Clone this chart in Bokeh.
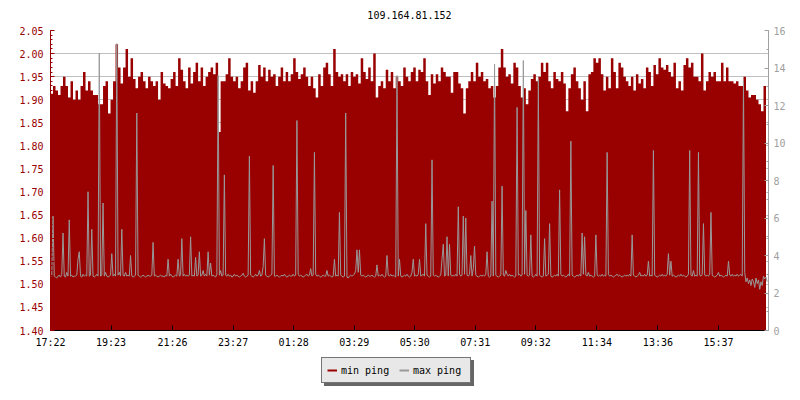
from bokeh.plotting import figure
from bokeh.layouts import column
from bokeh.models import (Range1d, LinearAxis, FixedTicker,
                          Legend, LegendItem, ColumnDataSource, NumeralTickFormatter)
from bokeh.embed import file_html
from bokeh.resources import INLINE

title_text = "109.164.81.152"
start_label = "17:22"
min_sample_minutes = 5
max_sample_minutes = 2.5
tick_labels = ["17:22", "19:23", "21:26", "23:27", "01:28", "03:29",
               "05:30", "07:31", "09:32", "11:34", "13:36", "15:37"]
left_ticks = [1.40, 1.45, 1.50, 1.55, 1.60, 1.65, 1.70, 1.75, 1.80, 1.85, 1.90, 1.95, 2.00, 2.05]
right_ticks = [0, 2, 4, 6, 8, 10, 12, 14, 16]
series_names = ["min ping", "max ping"]

# left axis series, one value per 5 minutes
min_ping = [
    1.913, 1.93, 1.92, 1.91, 1.93, 1.95, 1.93, 1.905, 1.94, 1.90,
    1.92, 1.90, 1.93, 1.96, 1.92, 1.94, 1.92, 1.91, 1.91, 1.89,
    1.89, 1.93, 1.94, 1.87, 1.90, 1.94, 2.02, 1.97, 1.935, 1.97,
    2.01, 1.95, 1.99, 1.945, 1.925, 1.95, 1.96, 1.94, 1.925, 1.95,
    1.94, 1.93, 1.94, 1.90, 1.96, 1.935, 1.93, 1.925, 1.945, 1.96,
    1.93, 1.99, 1.965, 1.94, 1.925, 1.97, 1.935, 1.96, 1.98, 1.94,
    1.97, 1.93, 1.95, 1.96, 1.97, 1.955, 1.98, 1.83, 1.94, 1.94,
    1.955, 1.99, 1.95, 1.94, 1.95, 1.925, 1.94, 1.97, 1.98, 1.92,
    1.94, 1.915, 1.94, 1.975, 1.95, 1.97, 1.94, 1.965, 1.95, 1.955,
    1.93, 1.95, 1.97, 1.94, 1.96, 1.94, 1.955, 1.99, 1.96, 1.945,
    1.955, 1.97, 1.95, 1.93, 1.95, 1.925, 1.905, 1.955, 1.93, 1.97,
    1.98, 1.955, 1.93, 2.01, 1.96, 1.95, 1.955, 1.94, 1.955, 1.93,
    1.96, 1.95, 1.955, 1.935, 1.99, 1.96, 1.945, 1.97, 1.94, 2.00,
    1.905, 1.93, 1.94, 1.925, 1.965, 1.94, 1.96, 1.925, 1.95, 1.94,
    1.93, 1.97, 1.95, 1.94, 1.96, 1.97, 1.94, 1.965, 1.96, 1.99,
    1.94, 1.91, 1.955, 1.935, 1.955, 1.94, 1.97, 1.96, 1.95, 1.95,
    1.915, 1.96, 1.96, 1.935, 1.925, 1.87, 1.925, 1.94, 1.96, 1.94,
    1.98, 1.95, 1.96, 1.94, 1.945, 1.925, 1.93, 1.905, 1.93, 1.97,
    2.01, 1.97, 1.95, 1.955, 1.935, 1.98, 1.97, 1.93, 1.905, 1.925,
    1.89, 1.92, 1.945, 1.955, 1.94, 1.95, 1.98, 1.96, 1.98, 1.94,
    1.925, 1.96, 1.945, 1.94, 1.96, 1.935, 1.875, 1.925, 1.955, 1.97,
    1.94, 1.925, 1.90, 1.94, 1.875, 1.955, 1.96, 1.99, 1.98, 1.99,
    1.955, 1.92, 1.95, 1.925, 1.99, 1.96, 1.925, 1.98, 1.97, 1.95,
    1.94, 1.93, 1.95, 1.92, 1.955, 1.935, 1.945, 1.925, 1.97, 1.96,
    1.93, 1.975, 1.955, 1.99, 1.97, 1.965, 1.975, 1.96, 1.95, 1.98,
    1.925, 1.94, 1.92, 1.975, 1.99, 1.97, 1.98, 1.95, 1.95, 1.94,
    2.00, 1.92, 1.94, 1.96, 1.95, 1.96, 1.94, 1.94, 1.98, 1.94,
    1.97, 1.94, 1.94, 1.935, 1.94, 1.93, 1.93, 1.95, 1.92, 1.905,
    1.91, 1.91, 1.90, 1.89, 1.875, 1.93, 1.925,
]

# right axis series, one value per 2.5 minutes
max_ping = [
    2.95, 2.9, 6.1, 2.9, 2.85, 2.8, 2.9, 2.95, 2.85, 3.0, 5.2, 2.9, 2.85, 3.1, 2.9, 5.9, 2.9, 2.95, 2.85, 2.9,
    2.9, 2.95, 3.8, 4.2, 2.9, 2.85, 3.0, 2.9, 2.95, 2.9, 7.4, 2.9, 2.95, 5.4, 2.9, 2.85, 2.9, 3.0, 2.9, 14.8,
    2.9, 2.95, 6.8, 2.9, 3.1, 2.9, 2.85, 2.9, 2.95, 4.1, 2.9, 3.0, 2.9, 15.3, 2.95, 3.1, 2.9, 5.4, 2.95, 2.9,
    3.1, 2.9, 2.95, 2.9, 4.0, 2.9, 2.85, 2.9, 2.95, 11.6, 2.95, 2.9, 2.85, 2.9, 2.95, 2.9, 2.85, 2.9, 2.95, 2.9,
    2.9, 2.95, 4.7, 2.9, 2.95, 2.9, 2.85, 2.9, 2.95, 2.9, 2.9, 2.85, 2.95, 2.9, 3.8, 2.9, 3.0, 2.9, 2.85, 2.9,
    2.95, 2.9, 3.8, 2.9, 2.95, 4.9, 2.9, 3.0, 2.9, 2.95, 2.9, 2.95, 5.0, 2.9, 2.95, 2.9, 3.9, 2.9, 2.95, 4.2,
    2.9, 2.95, 3.2, 2.9, 3.0, 2.9, 4.2, 2.95, 3.6, 2.9, 2.95, 2.9, 2.85, 3.0, 13.6, 2.95, 3.2, 2.9, 2.95, 8.3,
    2.95, 2.9, 3.0, 2.9, 2.95, 2.85, 2.9, 3.0, 2.9, 2.95, 2.9, 2.85, 2.9, 2.95, 3.05, 2.9, 2.85, 2.9, 2.95, 9.3,
    2.95, 2.9, 2.85, 2.9, 3.0, 2.9, 2.95, 3.2, 2.9, 2.95, 3.4, 4.9, 2.95, 2.9, 2.85, 2.9, 2.95, 3.0, 8.8, 2.9,
    2.9, 2.95, 2.9, 2.85, 2.9, 2.95, 2.9, 3.0, 2.9, 2.85, 2.9, 2.95, 2.9, 2.9, 3.0, 2.9, 2.95, 11.2, 3.0, 2.9,
    2.95, 2.9, 2.85, 2.9, 2.95, 3.0, 2.9, 2.95, 3.3, 2.9, 2.95, 9.5, 3.0, 2.9, 2.95, 2.9, 2.85, 2.9, 2.95, 2.9,
    2.9, 3.2, 2.9, 2.95, 2.9, 2.85, 2.9, 3.8, 2.9, 2.95, 2.9, 6.3, 2.95, 2.9, 2.85, 2.9, 11.6, 2.85, 2.8, 2.9,
    2.95, 2.9, 2.95, 3.0, 3.2, 4.3, 3.1, 4.3, 2.95, 2.9, 2.95, 2.9, 2.85, 2.9, 2.95, 2.9, 2.9, 2.95, 2.9, 2.85,
    2.9, 3.5, 2.9, 2.95, 2.9, 3.0, 2.9, 2.85, 2.9, 4.0, 2.95, 2.9, 3.0, 2.9, 2.95, 2.9, 2.85, 13.6, 2.9, 3.8,
    2.9, 2.85, 2.9, 2.95, 2.9, 3.0, 2.9, 2.85, 2.9, 3.1, 3.8, 2.9, 2.95, 2.9, 3.0, 3.8, 2.9, 2.95, 3.0, 2.9,
    5.7, 2.95, 2.9, 2.85, 2.9, 9.1, 2.95, 2.9, 2.95, 2.9, 2.85, 2.9, 2.95, 3.8, 4.6, 2.9, 2.95, 5.0, 2.9, 4.6,
    2.95, 2.9, 2.95, 2.9, 3.0, 2.9, 6.6, 3.0, 2.9, 2.95, 6.1, 3.0, 6.0, 2.95, 2.9, 3.0, 4.0, 2.9, 3.3, 4.5,
    2.95, 2.9, 2.85, 2.9, 2.95, 2.9, 2.95, 2.9, 3.0, 4.2, 2.9, 2.85, 2.9, 6.9, 2.9, 14.2, 2.95, 2.9, 2.85, 2.9,
    2.95, 7.7, 2.95, 2.9, 3.2, 3.0, 2.9, 3.0, 2.9, 2.95, 2.9, 2.85, 2.9, 11.9, 2.95, 3.0, 2.9, 2.95, 14.4, 3.0,
    6.4, 2.95, 2.9, 2.95, 5.1, 2.9, 2.85, 2.9, 3.0, 2.9, 13.4, 2.95, 2.9, 2.85, 2.9, 4.9, 2.9, 2.95, 3.0, 5.7,
    2.9, 2.85, 2.9, 2.95, 2.9, 3.0, 2.9, 7.5, 3.0, 2.9, 2.95, 2.9, 2.85, 2.9, 3.0, 2.9, 10.1, 2.95, 2.9, 2.85,
    2.9, 2.95, 2.9, 3.0, 2.9, 5.2, 3.0, 5.0, 2.95, 2.9, 3.1, 2.9, 2.95, 2.9, 2.85, 2.9, 5.1, 2.95, 2.9, 2.95,
    2.9, 3.0, 2.9, 2.95, 2.9, 9.5, 3.0, 2.9, 2.95, 2.9, 2.85, 2.9, 2.95, 3.0, 2.9, 2.95, 2.9, 2.85, 2.9, 2.95,
    2.9, 2.95, 2.9, 3.0, 2.9, 5.1, 2.95, 2.9, 2.85, 2.9, 2.95, 3.1, 2.9, 2.95, 2.9, 3.0, 2.9, 2.95, 3.7, 2.9,
    2.95, 2.9, 9.6, 2.95, 2.9, 2.85, 2.9, 2.95, 2.9, 3.0, 2.9, 2.95, 2.9, 3.0, 4.1, 2.95, 3.7, 2.9, 2.95, 2.9,
    2.85, 2.9, 2.95, 2.9, 3.0, 2.9, 2.95, 2.9, 2.85, 2.9, 3.0, 9.6, 2.95, 2.9, 3.2, 2.9, 2.95, 2.9, 9.5, 2.95,
    2.9, 3.0, 5.7, 2.95, 2.9, 2.95, 2.9, 3.0, 6.3, 2.95, 2.9, 2.85, 2.9, 2.95, 3.1, 2.9, 2.95, 2.9, 2.85, 2.9,
    2.95, 2.9, 3.7, 2.95, 2.9, 3.0, 2.9, 2.95, 2.9, 3.0, 2.9, 2.95, 3.0, 2.9, 13.3, 3.1, 2.6, 2.8, 2.5, 2.7,
    2.4, 2.75, 2.6, 2.3, 2.8, 2.5, 2.7, 2.2, 2.6, 2.4, 2.9, 2.75, 2.85, 2.6,
]

MONO = "DejaVu Sans Mono"
RED = "#990000"
GRAY = "#999999"
AXGRAY = "#a0a0a0"
SHADOW = "#666666"
NAN = float("nan")


def to_min(lbl):
    h, m = map(int, lbl.split(":"))
    return h * 60 + m


start = to_min(start_label)
tick_pos = [(to_min(l) - start) % 1440 for l in tick_labels]
n_min = len(min_ping)
x_min = [i * min_sample_minutes for i in range(n_min)]
x_max = [i * max_sample_minutes for i in range(len(max_ping))]

y_lo, y_hi = left_ticks[0], left_ticks[-1]
p = figure(frame_width=718, frame_height=300,
           min_border_left=50, min_border_right=24, min_border_top=30, min_border_bottom=20,
           x_range=Range1d(0, n_min * min_sample_minutes), y_range=Range1d(y_lo, y_hi),
           output_backend="svg", toolbar_location=None, title=title_text)
p.extra_y_ranges = {"right": Range1d(right_ticks[0], right_ticks[-1])}

p.title.align = "center"
p.title.vertical_align = "top"
p.title.text_font = MONO
p.title.text_font_size = "10px"
p.title.text_font_style = "normal"
p.title.text_color = "black"
p.title.standoff = 20

p.outline_line_color = None
p.background_fill_color = "white"
p.border_fill_color = "white"
p.xgrid.visible = False
p.ygrid.grid_line_color = "#c0c0c0"

# left axis
minor_left = [round(y_lo + 0.01 * k, 2) for k in range(int(round((y_hi - y_lo) / 0.01)) + 1)]
ya = p.yaxis[0]
ya.ticker = FixedTicker(ticks=left_ticks, minor_ticks=minor_left)
ya.formatter = NumeralTickFormatter(format="0.00")
for attr in ["axis_line_color", "major_tick_line_color", "minor_tick_line_color",
             "major_label_text_color"]:
    setattr(ya, attr, RED)
ya.major_tick_in = 4
ya.major_tick_out = 0
ya.minor_tick_in = 2
ya.minor_tick_out = 0
ya.major_label_standoff = 7
ya.major_label_text_font = MONO
ya.major_label_text_font_size = "10px"

# right axis
ra = LinearAxis(y_range_name="right",
                ticker=FixedTicker(ticks=right_ticks,
                                   minor_ticks=list(range(right_ticks[0], right_ticks[-1] + 1))))
ra.axis_line_color = AXGRAY
ra.major_tick_line_color = AXGRAY
ra.minor_tick_line_color = AXGRAY
ra.major_label_text_color = AXGRAY
ra.major_tick_in = 4
ra.major_tick_out = 0
ra.minor_tick_in = 2
ra.minor_tick_out = 0
ra.major_label_standoff = 5
ra.major_label_text_font = MONO
ra.major_label_text_font_size = "10px"
p.add_layout(ra, "right")

# bottom axis
xa = p.xaxis[0]
xa.ticker = FixedTicker(ticks=tick_pos, minor_ticks=[])
xa.major_label_overrides = {pos: lbl for pos, lbl in zip(tick_pos, tick_labels)}
xa.axis_line_color = "black"
xa.major_tick_line_color = "black"
xa.major_tick_in = 5
xa.major_tick_out = 0
xa.major_label_standoff = 6
xa.major_label_text_font = MONO
xa.major_label_text_font_size = "10px"
xa.major_label_text_color = "black"

src_min = ColumnDataSource(dict(x=x_min, base=[y_lo] * n_min, v=min_ping))
src_max = ColumnDataSource(dict(x=x_max, v=max_ping))
p.varea_step(x="x", y1="base", y2="v", step_mode="after", source=src_min,
             fill_color=RED, fill_alpha=1)
p.line("x", "v", source=src_max, y_range_name="right", line_color=GRAY, line_width=1)

# legend strip: a small figure whose frame fills it, holding the legend and its shadow
lf = figure(width=792, height=44, min_border=0, min_border_left=0, min_border_right=0,
            min_border_top=0, min_border_bottom=0,
            x_range=Range1d(0, 1), y_range=Range1d(0, 1),
            x_axis_type=None, y_axis_type=None,
            output_backend="svg", toolbar_location=None)
lf.outline_line_color = None
lf.grid.visible = False
lf.background_fill_color = "white"
lf.border_fill_color = "white"

# legend-only renderers (a single NaN point: nothing is drawn in the strip)
lg_min = lf.line([NAN], [NAN], line_color=RED, line_width=2)
lg_max = lf.line([NAN], [NAN], line_color=GRAY, line_width=2)
sh_a = lf.line([NAN], [NAN], line_color=SHADOW, line_width=2)
sh_b = lf.line([NAN], [NAN], line_color=SHADOW, line_width=2)


def make_legend(items, loc, bg, border, txt):
    return Legend(items=items, location=loc, orientation="horizontal",
                  label_text_font=MONO, label_text_font_size="10px",
                  label_text_color=txt, padding=5, spacing=6, margin=0,
                  glyph_width=10, glyph_height=14, label_height=14,
                  label_standoff=4, label_width=52,
                  background_fill_color=bg, background_fill_alpha=1,
                  border_line_color=border, border_line_width=1)


shadow = make_legend([LegendItem(label=" ", renderers=[sh_a]),
                      LegendItem(label=" ", renderers=[sh_b])],
                     (274, 8), SHADOW, SHADOW, SHADOW)
legend = make_legend([LegendItem(label=series_names[0], renderers=[lg_min]),
                      LegendItem(label=series_names[1], renderers=[lg_max])],
                     (271, 11), "#e8e8e8", "black", "black")
lf.add_layout(shadow, "center")
lf.add_layout(legend, "center")

open("out.html", "w").write(file_html(column(p, lf, spacing=0), INLINE))
